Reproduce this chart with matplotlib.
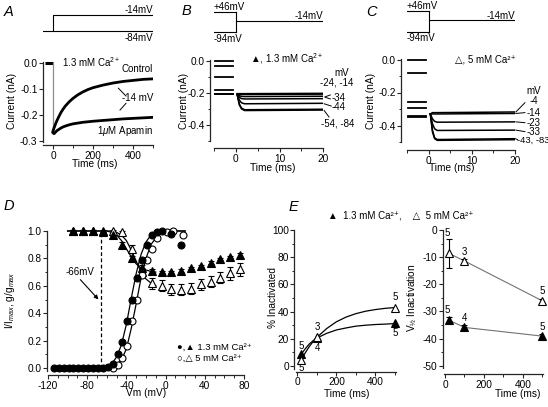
import matplotlib
matplotlib.use('Agg')
import matplotlib.pyplot as plt
from matplotlib.ticker import MultipleLocator, FixedLocator, FormatStrFormatter

plt.rcParams['font.family'] = ['Liberation Sans', 'DejaVu Sans']
plt.rcParams['mathtext.fontset'] = 'custom'
plt.rcParams['mathtext.rm'] = 'Liberation Sans'
plt.rcParams['mathtext.it'] = 'Liberation Sans:italic'
plt.rcParams['font.size'] = 7
plt.rcParams['axes.unicode_minus'] = False

# ---------------- DATA ----------------
# Panel A
a_base_t = [-40, -2]
a_base_v = [0.0, 0.0]
a_t = [0, 5, 10, 15, 20, 30, 40, 50, 60, 80, 100, 125, 150, 175, 200, 250, 300, 350, 400, 450, 500]
a_ctrl = [-0.262, -0.25, -0.24, -0.23, -0.221, -0.205, -0.19, -0.178, -0.167, -0.15, -0.136, -0.122,
          -0.111, -0.102, -0.095, -0.085, -0.077, -0.071, -0.067, -0.063, -0.061]
a_apamin = [-0.268, -0.272, -0.268, -0.264, -0.26, -0.255, -0.25, -0.246, -0.243, -0.238, -0.234,
            -0.231, -0.228, -0.226, -0.224, -0.221, -0.218, -0.215, -0.213, -0.211, -0.209]
a_protocol_t = [-50, 0, 0, 500]
a_protocol_v = [-84, -84, -14, -14]
a_hold_v = -84

# Panel B
b_pre_t = [-4.8, -0.6]
b_pre_levels = [0.0, -0.03, -0.10, -0.18, -0.205, -0.21]
b_post_t = [0.3, 0.8, 1.3, 2.0, 20.0]
b_post = [
    [-0.205, -0.205, -0.205, -0.205, -0.203],
    [-0.21, -0.21, -0.21, -0.21, -0.208],
    [-0.21, -0.218, -0.222, -0.223, -0.221],
    [-0.21, -0.228, -0.236, -0.238, -0.236],
    [-0.21, -0.245, -0.262, -0.268, -0.265],
    [-0.21, -0.27, -0.295, -0.305, -0.302],
    [-0.21, -0.275, -0.300, -0.310, -0.307],
]

# Panel C
c_pre_t = [-4.8, -0.6]
c_pre_levels = [0.0, -0.082, -0.255, -0.293, -0.343, -0.35]
c_post_t = [0.4, 0.9, 1.4, 2.0, 20.0]
c_post = [
    [-0.33, -0.322, -0.322, -0.322, -0.318],
    [-0.33, -0.33, -0.33, -0.33, -0.327],
    [-0.33, -0.36, -0.375, -0.38, -0.378],
    [-0.33, -0.39, -0.42, -0.43, -0.428],
    [-0.33, -0.43, -0.475, -0.485, -0.48],
    [-0.33, -0.44, -0.48, -0.49, -0.486],
]
bc_prepulse_t = [-5, 0]
bc_test_t = [0, 20]
bc_levels = [46, -94, -14]

# Panel D
d_act_v_f = [-114, -109, -104, -99, -94, -89, -84, -79, -74, -69, -64, -59, -54, -49, -44, -39, -34,
             -29, -24, -19, -14, -9, -4, 6, 16]
d_act_f = [0, 0, 0, 0, 0, 0, 0, 0, 0, 0, 0.0, 0.01, 0.03, 0.10, 0.19, 0.34, 0.50,
           0.66, 0.79, 0.90, 0.97, 0.99, 1.0, 0.98, 0.90]
d_act_v_o = [-54, -49, -44, -39, -34, -29, -24, -19, -14, -9, 1, 8, 18]
d_act_o = [0.0, 0.02, 0.07, 0.16, 0.34, 0.50, 0.68, 0.79, 0.87, 0.95, 0.99, 1.0, 0.97]
d_fit_act_v = [-70, -65, -60, -55, -50, -45, -40, -35, -30, -25, -20, -15, -10, -5, 0, 5, 10, 20]
d_fit_act_f = [0.0, 0.003, 0.01, 0.03, 0.08, 0.17, 0.32, 0.51, 0.69, 0.83, 0.92, 0.97, 0.99, 1.0, 1.0, 1.0, 1.0, 1.0]
d_fit_act_o = [0.0, 0.0, 0.003, 0.01, 0.025, 0.06, 0.14, 0.29, 0.47, 0.66, 0.8, 0.9, 0.95, 0.98, 0.99, 1.0, 1.0, 1.0]
d_inact_v = [-94, -84, -74, -64, -54, -44, -34, -24, -14, -4, 6, 16, 26, 36, 46, 56, 66, 76]
d_inact_f = [1.0, 1.0, 1.0, 1.0, 0.97, 0.90, 0.80, 0.73, 0.71, 0.70, 0.70, 0.71, 0.73, 0.745, 0.77, 0.795, 0.81, 0.825]
d_inact_f_err = [0.005, 0.005, 0.005, 0.005, 0.01, 0.02, 0.02, 0.02, 0.015, 0.01, 0.01, 0.01, 0.01, 0.01, 0.01, 0.01, 0.01, 0.015]
d_inact_o = [1.0, 1.0, 1.0, 0.99, 1.0, 0.99, 0.87, 0.70, 0.62, 0.60, 0.575, 0.57, 0.58, 0.61, 0.63, 0.66, 0.69, 0.72]
d_inact_o_err = [0.005, 0.005, 0.005, 0.005, 0.01, 0.01, 0.03, 0.03, 0.04, 0.04, 0.04, 0.04, 0.04, 0.04, 0.04, 0.04, 0.045, 0.05]
d_fit_inact_v = [-100, -90, -80, -70, -60, -55, -50, -45, -40, -35, -30, -25, -20, -15, -10]
d_fit_inact_f = [1.0, 1.0, 1.0, 1.0, 1.0, 0.99, 0.97, 0.93, 0.87, 0.81, 0.76, 0.73, 0.715, 0.705, 0.70]
d_fit_inact_o = [1.0, 1.0, 1.0, 1.0, 1.0, 1.0, 0.99, 0.97, 0.93, 0.86, 0.78, 0.70, 0.65, 0.62, 0.60]
d_marker_v = -66

# Panel E
e_t = [20, 100, 500]
e_pct_f = [8.6, 20.5, 31.4]
e_pct_o = [4.4, 21.0, 42.9]
e_n_pct_f = ['5', '4', '5']
e_n_pct_o = ['5', '3', '5']
e_fit_t = [20, 40, 60, 80, 100, 150, 200, 250, 300, 350, 400, 450, 500]
e_fit_f = [8.6, 12.5, 16, 18.5, 20.5, 24, 26.5, 28, 29.3, 30, 30.5, 30.8, 31.2]
e_fit_o = [4.4, 9.5, 14, 17.8, 21, 27.5, 32.5, 36, 38.5, 40.3, 41.5, 42.4, 43]
e_vh_f = [-33.2, -35.9, -39.1]
e_vh_f_err = [1.0, 0.8, 0.8]
e_vh_o = [-8.6, -11.4, -26.1]
e_vh_o_err = [5.4, 0.8, 0.8]
e_n_vh_f = ['5', '4', '5']
e_n_vh_o = ['5', '3', '5']

# ---------------- FIGURE ----------------
W, H = 548, 407
fig = plt.figure(figsize=(W / 100, H / 100), dpi=100)
PT = 72 / 100.0


def make_ax(xv, xp, yv, yp, xlim, ylim):
    sx = (xp[1] - xp[0]) / (xv[1] - xv[0])
    sy = (yp[1] - yp[0]) / (yv[1] - yv[0])
    l = xp[0] + (xlim[0] - xv[0]) * sx
    r = xp[0] + (xlim[1] - xv[0]) * sx
    t = yp[0] + (ylim[1] - yv[0]) * sy
    b = yp[0] + (ylim[0] - yv[0]) * sy
    ax = fig.add_axes([l / W, 1 - b / H, (r - l) / W, (b - t) / H])
    ax.set_xlim(*xlim)
    ax.set_ylim(*ylim)
    return ax


def style(ax, xoff, yoff, xb, yb):
    for s in ['top', 'right']:
        ax.spines[s].set_visible(False)
    ax.spines['bottom'].set_position(('outward', xoff * PT))
    ax.spines['left'].set_position(('outward', yoff * PT))
    ax.spines['bottom'].set_bounds(*xb)
    ax.spines['left'].set_bounds(*yb)
    for s in ['bottom', 'left']:
        ax.spines[s].set_linewidth(0.9)
        ax.spines[s].set_color('0.15')
    ax.tick_params(which='major', direction='out', length=3.0, width=0.8, labelsize=7.3, pad=1.0, color='0.15')
    ax.tick_params(which='minor', direction='out', length=1.8, width=0.7, color='0.15')
    ax.patch.set_visible(False)


def labels(ax, xl, xpos, yl, ypos, fs=7.3):
    ax.set_xlabel(xl, fontsize=fs)
    ax.xaxis.set_label_coords(xpos[0] / W, 1 - xpos[1] / H, transform=fig.transFigure)
    ax.xaxis.label.set_va('center')
    ax.set_ylabel(yl, fontsize=fs)
    ax.yaxis.set_label_coords(ypos[0] / W, 1 - ypos[1] / H, transform=fig.transFigure)
    ax.yaxis.label.set_va('center')
    ax.yaxis.label.set_ha('center')


def letter(ch, x, y):
    fig.text(x / W, 1 - y / H, ch, fontsize=10.5, style='italic', ha='left', va='center')


# ---------- Panel A ----------
axA = make_ax((0, 500), (53, 153), (0, -0.3), (63, 141), (-50, 500), (-0.305, 0.012))
style(axA, 3, 0, (-50, 500), (-0.305, 0.005))
axA.xaxis.set_major_locator(FixedLocator([0, 200, 400]))
axA.xaxis.set_minor_locator(FixedLocator([100, 300, 500]))
axA.yaxis.set_major_locator(FixedLocator([-0.3, -0.2, -0.1, 0.0]))
axA.yaxis.set_major_formatter(FormatStrFormatter('%.1f'))
axA.plot(a_base_t, a_base_v, color='k', lw=2.2, solid_capstyle='butt')
axA.plot([a_t[0], a_t[0]], [a_base_v[-1], a_apamin[0]], color='0.55', lw=0.9)
axA.plot(a_t, a_ctrl, color='k', lw=2.0)
axA.plot(a_t, a_apamin, color='k', lw=2.0)
axA.text(45, 0.002, '1.3 mM Ca$^{2+}$', ha='left', va='center')
axA.text(500, -0.023, 'Control', ha='right', va='center')
axA.text(500, -0.135, '-14 mV', ha='right', va='center')
axA.text(498, -0.262, '1$\\mu$M Apamin', ha='right', va='center')
axA.plot([327, 365], [-0.097, -0.127], color='k', lw=0.7)
axA.plot([335, 365], [-0.181, -0.155], color='k', lw=0.7)
labels(axA, 'Time (ms)', (95, 164), 'Current (nA)', (12, 101))

axAp = make_ax((0, 500), (53, 153), (-14, -84), (15, 31), (-50, 500), (-100, 0))
axAp.axis('off')
axAp.plot(a_protocol_t, a_protocol_v, color='k', lw=0.8)
axAp.plot([a_protocol_t[1], a_protocol_t[-1]], [a_hold_v, a_hold_v], color='k', lw=0.8)
axAp.text(500, 6, '-14mV', ha='right', va='center')
axAp.text(500, -116, '-84mV', ha='right', va='center')

# ---------- Panel B ----------
axB = make_ax((-5, 20), (214, 323.3), (0, -0.4), (60.7, 125), (-5, 20), (-0.5, 0.012))
style(axB, 7, 4, (-5, 20), (-0.5, 0.005))
axB.xaxis.set_major_locator(FixedLocator([0, 10, 20]))
axB.xaxis.set_minor_locator(FixedLocator([-5, 5, 15]))
axB.yaxis.set_major_locator(FixedLocator([-0.4, -0.2, 0.0]))
axB.yaxis.set_minor_locator(FixedLocator([-0.5, -0.3, -0.1]))
axB.yaxis.set_major_formatter(FormatStrFormatter('%.1f'))
for lv in b_pre_levels:
    axB.plot(b_pre_t, [lv, lv], color='k', lw=1.3)
for tr in b_post:
    axB.plot(b_post_t, tr, color='k', lw=1.1)
axB.text(3.2, 0.015, '▲, 1.3 mM Ca$^{2+}$', ha='left', va='center')
axB.text(22.6, -0.074, 'mV', ha='left', va='center')
axB.text(19.2, -0.136, '-24, -14', ha='left', va='center')
axB.text(21.8, -0.233, '-34', ha='left', va='center')
axB.text(22.0, -0.285, '-44', ha='left', va='center')
axB.text(19.4, -0.388, '-54, -84', ha='left', va='center')
axB.plot([21.6, 20.3, 21.6], [-0.213, -0.226, -0.238], color='k', lw=0.7, clip_on=False)
axB.plot([20.2, 21.8], [-0.268, -0.282], color='k', lw=0.7, clip_on=False)
axB.plot([20.2, 21.3], [-0.31, -0.35], color='k', lw=0.7, clip_on=False)
labels(axB, 'Time (ms)', (273, 168), 'Current (nA)', (184, 101))

axBp = make_ax((-5, 20), (214, 323.3), (46, -94), (12, 32), (-5, 20), (-110, 60))
axBp.axis('off')
for lv in bc_levels[:2]:
    axBp.plot(bc_prepulse_t, [lv, lv], color='k', lw=0.8)
axBp.plot([bc_test_t[0]] * 2, bc_levels[:2], color='k', lw=0.8)
axBp.plot(bc_test_t, [bc_levels[2]] * 2, color='k', lw=0.8)
axBp.text(-5, 81, '+46mV', ha='left', va='center')
axBp.text(20, 18, '-14mV', ha='right', va='center')
axBp.text(-5, -143, '-94mV', ha='left', va='center')

# ---------- Panel C ----------
axC = make_ax((-5, 20), (407, 515), (0, -0.4), (59.5, 125.5), (-5, 20), (-0.5, 0.012))
style(axC, 8, 6, (-5, 20), (-0.5, 0.005))
axC.xaxis.set_major_locator(FixedLocator([0, 10, 20]))
axC.xaxis.set_minor_locator(FixedLocator([-5, 5, 15]))
axC.yaxis.set_major_locator(FixedLocator([-0.4, -0.2, 0.0]))
axC.yaxis.set_minor_locator(FixedLocator([-0.5, -0.3, -0.1]))
axC.yaxis.set_major_formatter(FormatStrFormatter('%.1f'))
for lv in c_pre_levels:
    axC.plot(c_pre_t, [lv, lv], color='k', lw=1.3)
for tr in c_post:
    axC.plot(c_post_t, tr, color='k', lw=1.1)
axC.text(6.1, -0.003, '△, 5 mM Ca²⁺', ha='left', va='center')
axC.text(22.7, -0.189, 'mV', ha='left', va='center')
axC.text(23.3, -0.25, '-4', ha='left', va='center')
axC.text(22.7, -0.322, '-14', ha='left', va='center')
axC.text(22.7, -0.383, '-23', ha='left', va='center')
axC.text(22.7, -0.437, '-33', ha='left', va='center')
axC.text(20.4, -0.492, '-43, -83', ha='left', va='center', fontsize=6.8)
axC.plot([20.2, 22.3], [-0.318, -0.262], color='k', lw=0.7, clip_on=False)
axC.plot([20.2, 22.3], [-0.327, -0.322], color='k', lw=0.7, clip_on=False)
axC.plot([20.2, 22.3], [-0.378, -0.383], color='k', lw=0.7, clip_on=False)
axC.plot([20.2, 22.3], [-0.428, -0.437], color='k', lw=0.7, clip_on=False)
axC.plot([20.1, 20.6], [-0.48, -0.486], color='k', lw=0.7, clip_on=False)
labels(axC, 'Time (ms)', (452, 168), 'Current (nA)', (371, 101))

axCp = make_ax((-5, 20), (407, 515), (46, -94), (11, 32), (-5, 20), (-110, 60))
axCp.axis('off')
for lv in bc_levels[:2]:
    axCp.plot(bc_prepulse_t, [lv, lv], color='k', lw=0.8)
axCp.plot([bc_test_t[0]] * 2, bc_levels[:2], color='k', lw=0.8)
axCp.plot(bc_test_t, [bc_levels[2]] * 2, color='k', lw=0.8)
axCp.text(-5, 77, '+46mV', ha='left', va='center')
axCp.text(20, 15, '-14mV', ha='right', va='center')
axCp.text(-5, -137, '-94mV', ha='left', va='center')

# ---------- Panel D ----------
axD = make_ax((-120, 80), (48, 244), (0, 1), (368, 231), (-120, 80), (-0.03, 1.05))
style(axD, 3, 1, (-120, 80), (-0.02, 1.0))
axD.xaxis.set_major_locator(FixedLocator([-120, -80, -40, 0, 40, 80]))
axD.xaxis.set_minor_locator(MultipleLocator(10))
axD.yaxis.set_major_locator(FixedLocator([0, 0.2, 0.4, 0.6, 0.8, 1.0]))
axD.yaxis.set_minor_locator(MultipleLocator(0.1))
axD.yaxis.set_major_formatter(FormatStrFormatter('%.1f'))
axD.vlines(d_marker_v, 0, 1.0, colors='k', linestyles=(0, (3, 2)), lw=0.9)
axD.plot(d_fit_act_v, d_fit_act_f, color='k', lw=0.9, zorder=2)
axD.plot(d_fit_act_v, d_fit_act_o, color='k', lw=0.9, zorder=2)
axD.plot(d_fit_inact_v, d_fit_inact_f, color='k', lw=0.9, zorder=2)
axD.plot(d_fit_inact_v, d_fit_inact_o, color='k', lw=0.9, zorder=2)
axD.errorbar(d_inact_v, d_inact_o, yerr=d_inact_o_err, fmt='none', ecolor='k', elinewidth=0.8, capsize=2.2, capthick=0.8, zorder=3)
axD.errorbar(d_inact_v, d_inact_f, yerr=d_inact_f_err, fmt='none', ecolor='k', elinewidth=0.8, capsize=2.2, capthick=0.8, zorder=3)
axD.plot(d_inact_v, d_inact_o, '^', ms=5.2, mfc='white', mec='k', mew=0.8, ls='none', zorder=4, clip_on=False)
axD.plot(d_inact_v, d_inact_f, '^', ms=5.2, mfc='k', mec='k', mew=0.8, ls='none', zorder=5, clip_on=False)
axD.plot(d_act_v_o, d_act_o, 'o', ms=5.0, mfc='white', mec='k', mew=0.8, ls='none', zorder=4, clip_on=False)
axD.plot(d_act_v_f, d_act_f, 'o', ms=5.0, mfc='k', mec='k', mew=0.8, ls='none', zorder=5, clip_on=False)
axD.text(-87, 0.70, '-66mV', ha='center', va='center')
axD.annotate('', xy=(-68.5, 0.50), xytext=(-87, 0.645),
             arrowprops=dict(arrowstyle='-|>', color='k', lw=0.8, mutation_scale=6, shrinkA=0, shrinkB=0))
axD.text(12, 0.152, '●,▲ 1.3 mM Ca²⁺', ha='left', va='center', fontsize=6.8)
axD.text(12, 0.068, '○,△ 5 mM Ca²⁺', ha='left', va='center', fontsize=6.8)
labels(axD, 'Vm (mV)', (146, 393), 'I/I$_{max}$, g/g$_{max}$', (10, 300))

# ---------- Panel E (left) ----------
axE1 = make_ax((0, 500), (297.3, 395), (0, 100), (366, 230), (-5, 505), (-2, 101))
style(axE1, 3, 2, (-5, 505), (-2, 100))
axE1.xaxis.set_major_locator(FixedLocator([0, 200, 400]))
axE1.xaxis.set_minor_locator(FixedLocator([100, 300, 500]))
axE1.yaxis.set_major_locator(FixedLocator([0, 20, 40, 60, 80, 100]))
axE1.yaxis.set_minor_locator(FixedLocator([10, 30, 50, 70, 90]))
axE1.plot(e_fit_t, e_fit_f, color='k', lw=0.9)
axE1.plot(e_fit_t, e_fit_o, color='k', lw=0.9)
axE1.plot(e_t, e_pct_f, '^', ms=6, mfc='k', mec='k', mew=0.8, ls='none', clip_on=False, zorder=4)
axE1.plot(e_t, e_pct_o, '^', ms=6, mfc='white', mec='k', mew=0.8, ls='none', clip_on=False, zorder=5)
for t, y, s in zip(e_t, [14.7, 13.0, 24.3], e_n_pct_f):
    axE1.text(t + 2, y, s, ha='center', va='center')
for t, y, s in zip(e_t, [-1.8, 28.9, 50.7], e_n_pct_o):
    axE1.text(t + 2, y, s, ha='center', va='center')
labels(axE1, 'Time (ms)', (347, 394), '% Inactivated', (273, 298))

# ---------- Panel E (right) ----------
axE2 = make_ax((0, 500), (445, 542.3), (0, -50), (230, 365.7), (-5, 505), (-51, 1))
style(axE2, 6, 1.5, (-5, 505), (-51, 0))
axE2.xaxis.set_major_locator(FixedLocator([0, 200, 400]))
axE2.xaxis.set_minor_locator(FixedLocator([100, 300, 500]))
axE2.yaxis.set_major_locator(FixedLocator([-50, -40, -30, -20, -10, 0]))
axE2.yaxis.set_minor_locator(FixedLocator([-45, -35, -25, -15, -5]))
axE2.plot(e_t, e_vh_o, color='0.45', lw=0.8)
axE2.plot(e_t, e_vh_f, color='0.45', lw=0.8)
axE2.errorbar(e_t, e_vh_o, yerr=e_vh_o_err, fmt='none', ecolor='k', elinewidth=0.8, capsize=2.5, capthick=0.8)
axE2.errorbar(e_t, e_vh_f, yerr=e_vh_f_err, fmt='none', ecolor='k', elinewidth=0.8, capsize=2.5, capthick=0.8)
axE2.plot(e_t, e_vh_o, '^', ms=6, mfc='white', mec='k', mew=0.8, ls='none', clip_on=False, zorder=5)
axE2.plot(e_t, e_vh_f, '^', ms=6, mfc='k', mec='k', mew=0.8, ls='none', clip_on=False, zorder=5)
for t, y, s in zip(e_t, [-1.2, -8.0, -22.5], e_n_vh_o):
    axE2.text(t + (-6 if t == 20 else 2), y, s, ha='center', va='center')
for t, y, s in zip(e_t, [-29.5, -32.3, -35.9], e_n_vh_f):
    axE2.text(t + (-6 if t == 20 else 0), y, s, ha='center', va='center')
labels(axE2, 'Time (ms)', (518, 394), 'V$_{½}$ Inactivation', (412, 298))

fig.text(328 / W, 1 - 215 / H, '▲  1.3 mM Ca²⁺,    △  5 mM Ca²⁺', ha='left', va='center', fontsize=7)

letter('A', 4, 12)
letter('B', 182, 11)
letter('C', 366, 12)
letter('D', 4, 206)
letter('E', 289, 207)

fig.savefig('out.png', dpi=100)
